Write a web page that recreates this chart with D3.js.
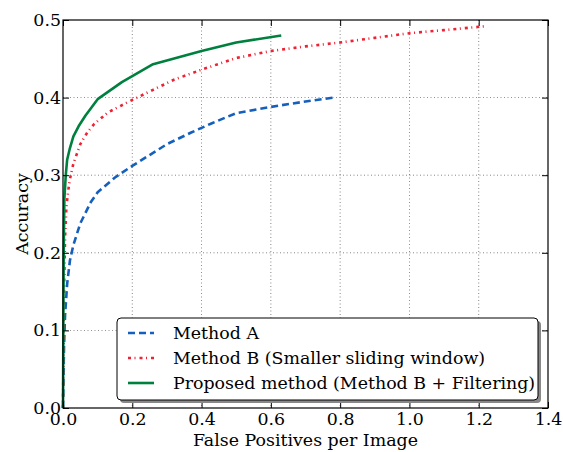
<!DOCTYPE html>
<html><head><meta charset="utf-8">
<script src="https://cdn.jsdelivr.net/npm/d3@7"></script>
<style>body{margin:0;background:#fff}</style>
</head><body><svg id="c" width="563" height="452"></svg>
<script>
const xTicks=[0,0.2,0.4,0.6,0.8,1.0,1.2,1.4];
const yTicks=[0,0.1,0.2,0.3,0.4,0.5];
const seriesNames=["Method A","Method B (Smaller sliding window)","Proposed method (Method B + Filtering)"];
const methodA=[[0,0],[0.003,0.08],[0.006,0.12],[0.012,0.16],[0.02,0.19],[0.03,0.21],[0.05,0.238],[0.08,0.265],[0.1,0.278],[0.15,0.297],[0.2,0.312],[0.25,0.326],[0.3,0.34],[0.37,0.355],[0.43,0.367],[0.5,0.38],[0.6,0.388],[0.7,0.395],[0.78,0.4]];
const methodB=[[0,0],[0.003,0.15],[0.006,0.22],[0.01,0.26],[0.015,0.28],[0.02,0.295],[0.03,0.315],[0.05,0.34],[0.07,0.355],[0.09,0.366],[0.13,0.381],[0.2,0.397],[0.26,0.41],[0.32,0.423],[0.4,0.436],[0.5,0.451],[0.6,0.46],[0.7,0.466],[0.8,0.471],[0.9,0.477],[1.0,0.483],[1.1,0.487],[1.22,0.492]];
const methodC=[[0,0],[0.002,0.2],[0.004,0.27],[0.008,0.3],[0.012,0.32],[0.02,0.335],[0.03,0.35],[0.045,0.363],[0.065,0.377],[0.1,0.398],[0.17,0.42],[0.26,0.443],[0.4,0.46],[0.5,0.471],[0.63,0.48]];
const colors=["#1560bd","#ee2233","#00803f"];
const dashes=["7,4","3,3.5,1,4",null];
const widths=[2.6,2.6,2.6];
const data=[methodA,methodB,methodC];
const FONT='"DejaVu Serif", serif';

const svg=d3.select("#c");
const L=63,R=548,T=20,B=408;
const x=d3.scaleLinear().domain([0,1.4]).range([L,R]);
const y=d3.scaleLinear().domain([0,0.5]).range([B,T]);
const fs=17.4;
const g=svg.append("g");
g.selectAll(".gx").data(xTicks.slice(1,-1)).enter().append("line")
 .attr("x1",d=>x(d)).attr("x2",d=>x(d)).attr("y1",T).attr("y2",B)
 .attr("stroke","#000").attr("stroke-width",0.6).attr("stroke-dasharray","1,2.5").attr("opacity",0.8);
g.selectAll(".gy").data(yTicks.slice(1,-1)).enter().append("line")
 .attr("y1",d=>y(d)).attr("y2",d=>y(d)).attr("x1",L).attr("x2",R)
 .attr("stroke","#000").attr("stroke-width",0.6).attr("stroke-dasharray","1,2.5").attr("opacity",0.8);
const line=d3.line().x(d=>x(d[0])).y(d=>y(d[1]));
const plot=svg.append("g");
data.forEach((d,i)=>{
 plot.append("path").datum(d).attr("d",line).attr("fill","none")
  .attr("stroke",colors[i]).attr("stroke-width",widths[i])
  .attr("stroke-dasharray",dashes[i]).attr("stroke-linejoin","round");
});
const tl=6;
const axB=d3.axisBottom(x).tickValues(xTicks).tickSize(-tl).tickPadding(4).tickFormat(d3.format(".1f"));
const axT=d3.axisTop(x).tickValues(xTicks).tickSize(-tl).tickFormat("");
const axLf=d3.axisLeft(y).tickValues(yTicks).tickSize(-tl).tickPadding(2).tickFormat(d3.format(".1f"));
const axRt=d3.axisRight(y).tickValues(yTicks).tickSize(-tl).tickFormat("");
function style(sel){
 sel.attr("font-family",null);
 sel.selectAll(".tick line").attr("stroke","#000").attr("stroke-width",1);
 sel.selectAll("text").attr("font-size",fs).attr("fill","#000").style("font-family",FONT);}
svg.append("g").attr("transform",`translate(0,${B})`).call(axB).call(style).selectAll("text").attr("dy","0.72em");
svg.append("g").attr("transform",`translate(0,${T})`).call(axT).call(style);
svg.append("g").attr("transform",`translate(${L},0)`).call(axLf).call(style);
svg.append("g").attr("transform",`translate(${R},0)`).call(axRt).call(style);
svg.selectAll(".domain").remove();
svg.append("rect").attr("x",L).attr("y",T).attr("width",R-L).attr("height",B-T).attr("fill","none").attr("stroke","#000").attr("stroke-width",1.2);
svg.append("text").attr("x",(L+R)/2).attr("y",446).attr("text-anchor","middle").attr("font-size",fs).style("font-family",FONT).text("False Positives per Image");
svg.append("text").attr("transform",`translate(28,${(T+B)/2}) rotate(-90)`).attr("text-anchor","middle").attr("font-size",fs).style("font-family",FONT).text("Accuracy");
const lx=117,ly=318,lw=421,lh=82;
svg.append("rect").attr("x",lx+3).attr("y",ly+3).attr("width",lw).attr("height",lh).attr("rx",4).attr("fill","#888");
svg.append("rect").attr("x",lx).attr("y",ly).attr("width",lw).attr("height",lh).attr("rx",4).attr("fill","#fff").attr("stroke","#000").attr("stroke-width",1);
seriesNames.forEach((n,i)=>{
 const yy=ly+15+i*25;
 svg.append("line").attr("x1",lx+11).attr("x2",lx+37).attr("y1",yy).attr("y2",yy)
  .attr("stroke",colors[i]).attr("stroke-width",widths[i]).attr("stroke-dasharray",dashes[i]);
 svg.append("text").attr("x",lx+56).attr("y",yy).attr("dy","0.35em").attr("font-size",fs).style("font-family",FONT).text(n);
});
</script></body></html>
